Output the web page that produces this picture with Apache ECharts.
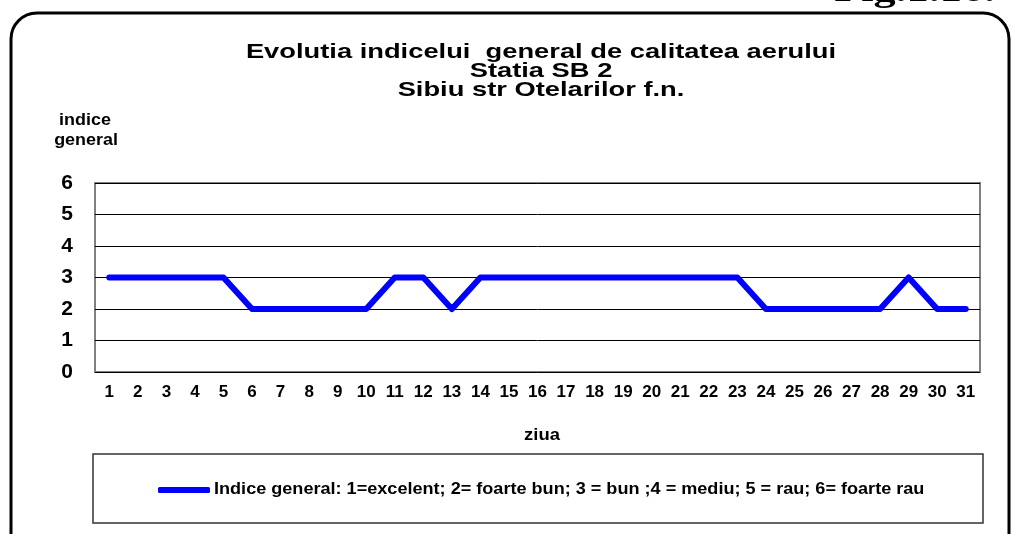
<!DOCTYPE html>
<html>
<head>
    <meta charset="utf-8" />
    <script type="text/javascript" src="https://cdn.jsdelivr.net/npm/echarts@6/dist/echarts.min.js"></script>
    <title></title>
    <style>
        body { margin: 0; background: #fff; }
    </style>
</head>
<body>
    <div id="main" style="width: 1013px;height:534px;"></div>
    <script type="text/javascript">
    // zilele lunii
    var days = ['1', '2', '3', '4', '5', '6', '7', '8', '9', '10', '11', '12', '13', '14', '15', '16',
        '17', '18', '19', '20', '21', '22', '23', '24', '25', '26', '27', '28', '29', '30', '31'];
    // indice general pe zile
    var indice = [3, 3, 3, 3, 3, 2, 2, 2, 2, 2, 3, 3, 2, 3, 3, 3, 3, 3, 3, 3, 3, 3, 3, 2, 2, 2, 2, 2, 3, 2, 2];
    var yTicks = [0, 1, 2, 3, 4, 5, 6];
    var titleLines = ['Evolutia indicelui  general de calitatea aerului', 'Statia SB 2', 'Sibiu str Otelarilor f.n.'];
    var seriesName = 'Indice general: 1=excelent; 2= foarte bun; 3 = bun ;4 = mediu; 5 = rau; 6= foarte rau';

    var FONT = '"Liberation Sans", Arial, sans-serif';
    var SX = 1.3; // textul din original e latit pe orizontala

    // text latit, centrat in (x, y)
    function wideText(str, x, y, size, sx) {
        return {
            type: 'text',
            x: x,
            y: y,
            scaleX: sx,
            z: 10,
            style: {
                text: str,
                x: 0,
                y: 0,
                align: 'center',
                verticalAlign: 'middle',
                textAlign: 'center',
                textVerticalAlign: 'middle',
                font: 'bold ' + size + 'px ' + FONT,
                fill: '#000'
            }
        };
    }

    var myChart = echarts.init(document.getElementById('main'));
    var option = {
        animation: false,
        textStyle: { fontFamily: FONT },
        legend: {
            data: [seriesName],
            left: 153,
            top: 482,
            icon: 'roundRect',
            itemWidth: 52,
            itemHeight: 6,
            formatter: function() { return ''; },
            textStyle: { fontSize: 1 }
        },
        grid: { left: 95, right: 33, top: 183, bottom: 162, show: true, borderColor: '#808080', borderWidth: 2 },
        xAxis: {
            type: 'category',
            data: days,
            boundaryGap: true,
            axisLine: { show: false },
            axisTick: { show: false },
            axisLabel: { fontSize: 17, fontWeight: 'bold', color: '#000', margin: 12, interval: 0 }
        },
        yAxis: {
            type: 'value',
            min: yTicks[0],
            max: yTicks[yTicks.length - 1],
            interval: 1,
            axisLine: { show: false },
            axisTick: { show: false },
            splitLine: { lineStyle: { color: '#000', width: 1 } },
            axisLabel: { fontSize: 21, fontWeight: 'bold', color: '#000', margin: 22 }
        },
        series: [{
            name: seriesName,
            type: 'line',
            data: indice,
            symbol: 'none',
            lineStyle: { color: '#0000ff', width: 6, cap: 'round', join: 'round' },
            itemStyle: { color: '#0000ff' }
        }],
        graphic: [
            {
                type: 'rect',
                shape: { x: 11, y: 13, width: 998, height: 560, r: 26 },
                style: { fill: 'none', stroke: '#000', lineWidth: 3 },
                z: 0
            },
            {
                type: 'rect',
                shape: { x: 93, y: 454, width: 890, height: 69 },
                style: { fill: 'none', stroke: '#333', lineWidth: 1.5 },
                z: 0
            },
            {
                type: 'text',
                x: 995,
                y: 9,
                scaleX: SX,
                style: {
                    text: 'Fig.1.16.',
                    x: 0, y: 0,
                    align: 'right', textAlign: 'right',
                    verticalAlign: 'bottom', textVerticalAlign: 'bottom',
                    font: 'bold 34px "Liberation Serif", "Times New Roman", serif',
                    fill: '#000'
                }
            },
            wideText(titleLines[0], 541, 52, 21, SX),
            wideText(titleLines[1], 541, 71, 21, SX),
            wideText(titleLines[2], 541, 90, 21, SX),
            wideText('indice', 85, 121, 16, 1.12),
            wideText('general', 86, 141, 16, 1.12),
            wideText('ziua', 542, 436, 16, 1.15),
            {
                type: 'text',
                x: 214,
                y: 490,
                scaleX: 1.13,
                style: {
                    text: seriesName,
                    x: 0, y: 0,
                    align: 'left', textAlign: 'left',
                    verticalAlign: 'middle', textVerticalAlign: 'middle',
                    font: 'bold 16px ' + FONT,
                    fill: '#000'
                }
            }
        ]
    };
    myChart.setOption(option);
    </script>
</body>
</html>
